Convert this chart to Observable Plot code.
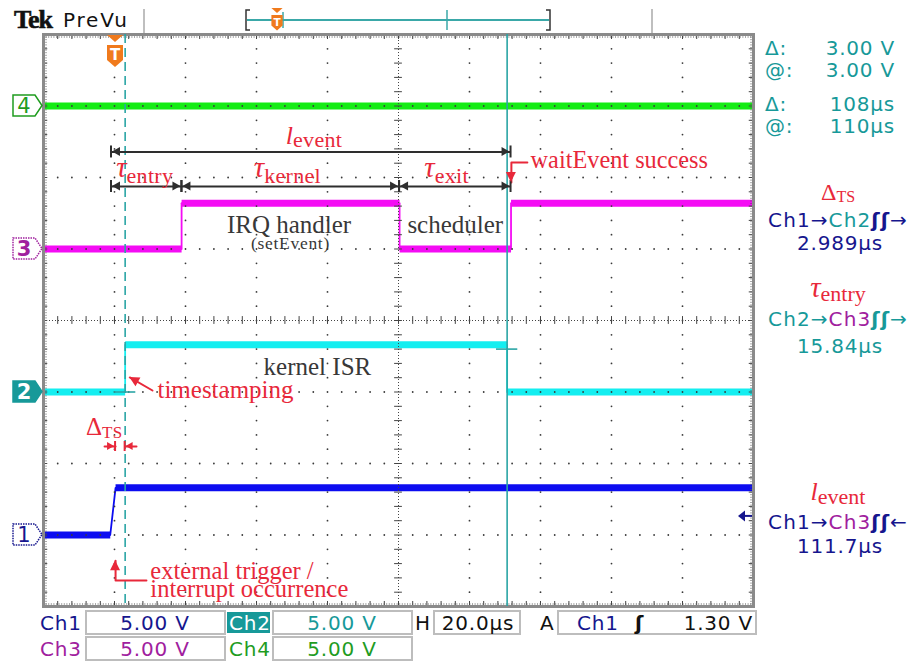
<!DOCTYPE html>
<html>
<head>
<meta charset="utf-8">
<script src="https://cdn.jsdelivr.net/npm/d3@7"></script>
<script src="https://cdn.jsdelivr.net/npm/@observablehq/plot@0.6"></script>
<style>
  html, body { margin: 0; padding: 0; background: #fff; }
  #scope { position: relative; width: 919px; height: 663px; overflow: hidden; }
  #scope svg { display: block; }
</style>
</head>
<body>
<div id="scope"></div>
<script>
// ===== Data read from the scope capture (time in µs from trigger, volts) =====
const ch1Time  = [-20, -1.2, 0.3, 180];
const ch1Volts = [0, 0, 3.3, 3.3];
const ch2Time  = [-20, 3.0, 3.0, 110.6, 110.6, 180];
const ch2Volts = [0, 0, 3.3, 3.3, 0, 0];
const ch3Time  = [-20, 18.9, 18.9, 80.3, 80.3, 111.7, 111.7, 180];
const ch3Volts = [0, 0, 3.2, 3.2, 0, 0, 3.2, 3.2];
const ch4Time  = [-20, 180];
const ch4Volts = [0, 0];

const channelNames   = ["Ch1", "Ch2", "Ch3", "Ch4"];
const channelOffsets = [-3, -1, 1, 3];        // ground markers, divisions
const voltsPerDiv    = 5;
const timeDomain     = [-20, 180];            // 20 µs/div, 10 div
const divDomain      = [-4, 4];               // 8 div
const triggerTime    = 0;
const triggerLevel   = 1.30;                  // V on Ch1
const cursorTimes    = [3.0, 110.6];
const cursorVolts    = [0.0, 3.0];            // measured on Ch2

// annotation anchors: event start, IRQ handler start, scheduler start, wakeup
const phaseTimes = [-0.85, 19.0, 80.3, 111.7];
const eventLevel = 2.357;
const tauLevel   = 1.874;

// readouts
const cursorReadout = [["Δ:", "3.00 V"], ["@:", "3.00 V"], ["Δ:", "108µs"], ["@:", "110µs"]];
const measurements = [
  {sym: "Δ", sub: "TS",    from: "Ch1", to: "Ch2", dir: "→", value: "2.989µs"},
  {sym: "τ", sub: "entry", from: "Ch2", to: "Ch3", dir: "→", value: "15.84µs"},
  {sym: "l", sub: "event", from: "Ch1", to: "Ch3", dir: "←", value: "111.7µs"}
];
const scaleLabels = ["5.00 V", "5.00 V", "5.00 V", "5.00 V"];
const horizLabel  = "20.0µs";
const trigLabel   = "1.30 V";

// ===== styles =====
const traceColor = {Ch1: "#0c0cf0", Ch2: "#14eef0", Ch3: "#f40cf4", Ch4: "#14ec14"};
const uiColor    = {Ch1: "#16168e", Ch2: "#179999", Ch3: "#a0209e", Ch4: "#1f9c1f"};
const RED = "#e8283a", DARK = "#2e2e2e", TEAL = "#2ba5a5";

// ===== trace segments =====
const traces = [
  {name: "Ch1", time: ch1Time, volts: ch1Volts, offset: channelOffsets[0]},
  {name: "Ch2", time: ch2Time, volts: ch2Volts, offset: channelOffsets[1]},
  {name: "Ch3", time: ch3Time, volts: ch3Volts, offset: channelOffsets[2]},
  {name: "Ch4", time: ch4Time, volts: ch4Volts, offset: channelOffsets[3]}
];
const levels = [], edges = [];
traces.forEach(c => {
  for (let i = 0; i < c.time.length - 1; i++) {
    const key = c.name + "-" + i;
    const a = {t: c.time[i], v: c.offset + c.volts[i] / voltsPerDiv, key, ch: c.name};
    const b = {t: c.time[i + 1], v: c.offset + c.volts[i + 1] / voltsPerDiv, key, ch: c.name};
    (c.volts[i] === c.volts[i + 1] ? levels : edges).push(a, b);
  }
});

// ===== graticule =====
const majorT = d3.range(timeDomain[0], timeDomain[1] + 0.01, 20);
const majorV = d3.range(divDomain[0], divDomain[1] + 0.01, 1);
const minorT = d3.range(timeDomain[0], timeDomain[1] + 0.01, 4);
const minorV = d3.range(divDomain[0], divDomain[1] + 0.001, 0.2).map(d => Math.round(d * 10) / 10);
const gridDots = [];
majorT.slice(1, -1).filter(t => t !== 80).forEach(t => minorV.slice(1, -1).forEach(v => gridDots.push({t, v})));
majorV.slice(1, -1).filter(v => v !== 0).forEach(v => minorT.slice(1, -1).forEach(t => {
  if (!majorT.includes(t)) gridDots.push({t, v});
}));

// ===== annotations =====
const dims = [
  {from: phaseTimes[0], to: phaseTimes[3], v: eventLevel},
  {from: phaseTimes[0], to: phaseTimes[1], v: tauLevel},
  {from: phaseTimes[1], to: phaseTimes[2], v: tauLevel},
  {from: phaseTimes[2], to: phaseTimes[3], v: tauLevel}
];
const mathLabels = [
  {t: 48.4, v: 2.462, sym: "l", sub: "event", subDy: 3},
  {t: 0.6,  v: 2.0,   sym: "τ", sub: "entry", subDy: 6},
  {t: 39.4, v: 2.0,   sym: "τ", sub: "kernel", subDy: 6},
  {t: 87.4, v: 2.0,   sym: "τ", sub: "exit", subDy: 6},
  {t: -7.9, v: -1.608, sym: "Δ", sub: "TS", subDy: 3}
];
const grayLabels = [
  {t: 42.0, v: -0.769, text: "kernel ISR", size: 25},
  {t: 82.5, v: 1.217, text: "scheduler", size: 25}
];
const redLabels = [
  {t: 12.1, v: -1.09, text: "timestamping", size: 25},
  {t: 117.2, v: 2.126, text: "waitEvent success", size: 24.3},
  {t: 10.1, v: -3.874, text: "external trigger /\ninterrupt occurrence", size: 24.5}
];
const redArrows = [
  {id: "ts",   pts: [[10.7, -0.979], [4.3, -0.797]], head: 10},
  {id: "wait", pts: [[116.3, 2.21], [111.8, 2.21], [111.8, 1.93]], head: 10},
  {id: "ext",  pts: [[9.0, -3.636], [0.3, -3.636], [0.3, -3.36]], head: 10},
  {id: "dl",   pts: [[-2.8, -1.762], [0.3, -1.762]], head: 6, bar: true},
  {id: "dr",   pts: [[6.2, -1.762], [3.0, -1.762]], head: 6, bar: true}
];
const redArrowPts = redArrows.flatMap(a => a.pts.map(([t, v]) => ({t, v, id: a.id})));

const cursorMarks = cursorTimes.map((t, i) => ({t, v: channelOffsets[1] + cursorVolts[i] / voltsPerDiv}));

const chart = Plot.plot({
  width: 919, height: 663,
  marginLeft: 43, marginRight: 166, marginTop: 34, marginBottom: 57,
  x: {domain: timeDomain, axis: null},
  y: {domain: divDomain, axis: null},
  style: {background: "transparent", overflow: "visible"},
  marks: [
    // traces
    ...traces.map(c => Plot.line(levels.filter(d => d.ch === c.name), {
      x: "t", y: "v", z: "key", stroke: traceColor[c.name], strokeWidth: 7, strokeLinecap: "butt"})),
    ...traces.map(c => Plot.line(edges.filter(d => d.ch === c.name), {
      x: "t", y: "v", z: "key", stroke: traceColor[c.name], strokeWidth: 1.8})),
    // graticule
    Plot.dot(gridDots, {x: "t", y: "v", r: 0.9, fill: "#3a3a3a", stroke: null}),
    Plot.ruleX([80], {stroke: "#444", strokeDasharray: "1,2"}),
    Plot.ruleY([0], {stroke: "#444", strokeDasharray: "1,2"}),
    Plot.ruleY(minorV, {y: d => d, x1: 78.9, x2: 81.1, stroke: "#444"}),
    Plot.ruleX(minorT, {x: d => d, y1: -0.055, y2: 0.055, stroke: "#444"}),
    Plot.ruleX(minorT, {x: d => d, y1: 4, y2: 3.93, stroke: "#444"}),
    Plot.ruleX(minorT, {x: d => d, y1: -4, y2: -3.93, stroke: "#444"}),
    Plot.ruleY(minorV, {y: d => d, x1: -20, x2: -18.8, stroke: "#444"}),
    Plot.ruleY(minorV, {y: d => d, x1: 180, x2: 178.8, stroke: "#444"}),
    Plot.ruleY([4], {dy: 2.5, stroke: "#555", strokeDasharray: "1,1.6"}),
    Plot.ruleY([-4], {dy: -2.5, stroke: "#555", strokeDasharray: "1,1.6"}),
    Plot.ruleX([-20], {dx: 2.5, stroke: "#555", strokeDasharray: "1,1.6"}),
    Plot.ruleX([180], {dx: -2.5, stroke: "#555", strokeDasharray: "1,1.6"}),
    Plot.frame({stroke: "#8a8a8a", strokeWidth: 3}),
    // cursors
    Plot.ruleX([cursorTimes[0]], {stroke: TEAL, strokeWidth: 1.6, strokeDasharray: "9,5"}),
    Plot.ruleX([cursorTimes[1]], {stroke: TEAL, strokeWidth: 1.6}),
    Plot.ruleY(cursorMarks, {y: "v", x1: d => d.t - 3, x2: d => d.t + 3, stroke: TEAL, strokeWidth: 1.6}),
    // dimension lines and red arrows
    Plot.link(dims, {x1: "from", x2: "to", y1: "v", y2: "v", stroke: DARK, strokeWidth: 2}),
    Plot.line(redArrowPts, {x: "t", y: "v", z: "id", stroke: RED, strokeWidth: 2}),
    // labels
    Plot.text(grayLabels, {x: "t", y: "v", text: "text", fontSize: d => d.size, textAnchor: "start", lineAnchor: "bottom",
      fontFamily: "Liberation Serif", fill: "#383838"}),
    Plot.text(redLabels, {x: "t", y: "v", text: "text", fontSize: d => d.size, textAnchor: "start", lineAnchor: "bottom",
      lineHeight: 0.74, fontFamily: "Liberation Serif", fill: RED})
  ]
});
document.getElementById("scope").appendChild(chart);

// ===== decorations using Plot's scales =====
const X = chart.scale("x"), Y = chart.scale("y");
const px = t => X.apply(t), py = v => Y.apply(v);
const svg = d3.select(chart);
const g = svg.append("g");

function tri(x, y, ux, uy, len, half, color) {
  const bx = x - ux * len, by = y - uy * len, nx = -uy, ny = ux;
  g.append("path").attr("d", `M${x},${y}L${bx + nx * half},${by + ny * half}L${bx - nx * half},${by - ny * half}Z`).attr("fill", color);
}
function bar(x, y, h, color) {
  g.append("line").attr("x1", x).attr("x2", x).attr("y1", y - h).attr("y2", y + h).attr("stroke", color).attr("stroke-width", 2);
}
dims.forEach(d => {
  const y = py(d.v), x1 = px(d.from), x2 = px(d.to);
  tri(x1 + 1, y, -1, 0, 8, 4.5, DARK); bar(x1, y, 6, DARK);
  tri(x2 - 1, y, 1, 0, 8, 4.5, DARK); bar(x2, y, 6, DARK);
});
redArrows.forEach(a => {
  const n = a.pts.length;
  const [t1, v1] = a.pts[n - 2], [t2, v2] = a.pts[n - 1];
  const x1 = px(t1), y1 = py(v1), x2 = px(t2), y2 = py(v2);
  const L = Math.hypot(x2 - x1, y2 - y1);
  const ux = (x2 - x1) / L, uy = (y2 - y1) / L;
  if (a.bar) { tri(x2 - ux, y2, ux, uy, a.head + 1, 4, RED); bar(x2, y2, 5, RED); }
  else tri(x2, y2, ux, uy, a.head, 5, RED);
});

// ===== text helper =====
function label(x, y, parts, anchor, base) {
  base = base || {};
  const t = g.append("text").attr("x", x).attr("y", y).attr("text-anchor", anchor || "start")
    .attr("font-family", base.family || "DejaVu Sans").attr("font-size", base.size || 20)
    .attr("fill", base.fill || "#000");
  if (base.ls) t.attr("letter-spacing", base.ls);
  if (typeof parts === "string") parts = [{text: parts}];
  parts.forEach(p => {
    const s = t.append("tspan").text(p.text);
    if (p.x != null) s.attr("x", p.x);
    if (p.fill) s.attr("fill", p.fill);
    if (p.size) s.attr("font-size", p.size);
    if (p.dy) s.attr("dy", p.dy);
    if (p.style) s.attr("font-style", p.style);
    if (p.weight) s.attr("font-weight", p.weight);
    if (p.family) s.attr("font-family", p.family);
    if (p.ls != null) s.attr("letter-spacing", p.ls);
  });
  return t;
}
function line(x1, y1, x2, y2, color, w) {
  g.append("line").attr("x1", x1).attr("y1", y1).attr("x2", x2).attr("y2", y2).attr("stroke", color).attr("stroke-width", w || 1.5);
}

// in-graticule math labels (symbol + subscript) at data positions
mathLabels.forEach(m => {
  const main = m.sym === "Δ" ? {text: m.sym, size: 25} : {text: m.sym, size: m.sym === "τ" ? 29 : 26, style: "italic"};
  const subSize = m.sym === "Δ" ? 17 : 22;
  label(px(m.t), py(m.v), [main, {text: m.sub, size: subSize, dy: m.subDy, ls: 0.3}], "start",
    {family: "Liberation Serif", fill: RED});
});
// IRQ handler with its (setEvent) note
label(px(31.8), py(1.217), [
  {text: "IRQ handler", size: 25},
  {text: "(setEvent)", size: 17.5, x: px(38.6), dy: 16, ls: 0.7}
], "start", {family: "Liberation Serif", fill: "#383838"});

// channel ground markers
const left = px(timeDomain[0]);
channelNames.forEach((name, i) => {
  const y = py(channelOffsets[i]);
  const filled = name === "Ch2";
  const path = `M${left - 30},${y - 10.5}H${left - 8}L${left - 1},${y}L${left - 8},${y + 10.5}H${left - 30}Z`;
  g.append("path").attr("d", path).attr("fill", filled ? uiColor.Ch2 : "#fff")
    .attr("stroke", uiColor[name]).attr("stroke-width", 1.5)
    .attr("stroke-dasharray", (name === "Ch1" || name === "Ch3") ? "1.5,1" : null);
  g.append("text").attr("x", left - 19).attr("y", y + 7.5).attr("text-anchor", "middle")
    .attr("font-family", "DejaVu Sans").attr("font-size", 21).attr("font-weight", filled || name === "Ch3" ? "bold" : "normal")
    .attr("fill", filled ? "#fff" : uiColor[name]).text(name.slice(2));
});

// trigger markers
function tIcon(x, yTop, s) {
  g.append("path").attr("d", `M${x - 8 * s},${yTop}H${x + 8 * s}L${x},${yTop + 7 * s}Z`).attr("fill", "#f07a1c");
  g.append("path").attr("d", `M${x - 8 * s},${yTop + 10 * s}H${x + 8 * s}V${yTop + 25 * s}L${x},${yTop + 32 * s}L${x - 8 * s},${yTop + 25 * s}Z`).attr("fill", "#f07a1c");
  g.append("text").attr("x", x).attr("y", yTop + 25 * s).attr("text-anchor", "middle").attr("font-family", "DejaVu Sans")
    .attr("font-weight", "bold").attr("font-size", 15 * s).attr("fill", "#fff").text("T");
}
tIcon(px(triggerTime) + 1, 35, 1);

// trigger level arrow (right edge)
{
  const y = py(channelOffsets[0] + triggerLevel / voltsPerDiv), xr = px(timeDomain[1]);
  g.append("path").attr("d", `M${xr - 15},${y}L${xr - 8},${y - 5.5}L${xr - 8},${y + 5.5}Z`).attr("fill", uiColor.Ch1);
  g.append("line").attr("x1", xr - 9).attr("x2", xr - 1).attr("y1", y).attr("y2", y).attr("stroke", uiColor.Ch1).attr("stroke-width", 2);
}

// header
label(14, 28, "Tek", "start", {family: "Liberation Serif", size: 26, fill: "#111", ls: -1})
  .attr("font-weight", "bold").attr("stroke", "#111").attr("stroke-width", 0.6);
label(63, 27, "PreVu", "start", {size: 20, fill: "#111", ls: 1.8});
line(144, 9, 144, 33, "#aaa", 1.5);
line(652, 9, 652, 33, "#aaa", 1.5);
line(247, 20, 549, 20, "#3aa8a8", 2);
g.append("path").attr("d", "M250,10H246V30H250").attr("fill", "none").attr("stroke", "#333").attr("stroke-width", 1.5);
g.append("path").attr("d", "M546,10H550V30H546").attr("fill", "none").attr("stroke", "#333").attr("stroke-width", 1.5);
line(447, 10, 447, 30, "#3aa8a8", 1.5);
line(283, 12, 283, 28, "#3aa8a8", 1.5);
tIcon(277, 8, 0.7);

// cursor readouts
cursorReadout.forEach(([k, val], i) => {
  const y = [55, 77, 111, 133][i];
  label(765, y, k, "start", {fill: uiColor.Ch2, ls: 0.8});
  label(895, y, val, "end", {fill: uiColor.Ch2, ls: 0.8});
});

// measurement readouts: symbol line, channel line and value line in one text
const mY = [[200, 227, 250], [297, 326, 353], [500, 529, 553]];
measurements.forEach((m, i) => {
  const [ys, yc, yv] = mY[i];
  const isD = m.sym === "Δ";
  const subDy = isD ? 2 : 4;
  const main = isD ? {text: m.sym, size: 24} : {text: m.sym, size: m.sym === "τ" ? 29 : 26, style: "italic"};
  const fc = uiColor[m.from];
  const sans = "DejaVu Sans";
  label(838, ys, [
    main,
    {text: m.sub, size: isD ? 16 : 22, dy: subDy},
    {text: m.from, x: 838, dy: yc - ys - subDy, fill: fc, family: sans, size: 20, ls: 1.1},
    {text: "→", fill: fc, family: sans, size: 20, ls: 1.1},
    {text: m.to, fill: uiColor[m.to], family: sans, size: 20, ls: 1.1},
    {text: "ʃʃ", fill: fc, weight: "bold", family: sans, size: 20, ls: 1.1},
    {text: m.dir, fill: fc, family: sans, size: 20, ls: 1.1},
    {text: m.value, x: 840, dy: yv - yc, fill: fc, family: sans, size: 20, ls: 0.8}
  ], "middle", {family: "Liberation Serif", fill: RED});
});

// footer
function box(x, y, w, h) {
  g.append("rect").attr("x", x).attr("y", y).attr("width", w).attr("height", h)
    .attr("fill", "#fff").attr("stroke", "#bdbdbd").attr("stroke-width", 2);
}
box(86, 611, 139, 23); box(273, 611, 139, 23); box(434, 611, 86, 23); box(558, 611, 198, 23);
box(86, 637, 139, 23); box(273, 637, 139, 23);
g.append("rect").attr("x", 227).attr("y", 612).attr("width", 43).attr("height", 21).attr("fill", uiColor.Ch2);
const fs = {ls: 0.8};
label(40, 630, "Ch1", "start", {...fs, fill: uiColor.Ch1});
label(155, 630, scaleLabels[0], "middle", {...fs, fill: uiColor.Ch1});
label(229, 630, "Ch2", "start", {...fs, fill: "#fff"});
label(342, 630, scaleLabels[1], "middle", {...fs, fill: uiColor.Ch2});
label(415, 630, "H", "start", {...fs, fill: "#111"});
label(478, 630, horizLabel, "middle", {...fs, fill: "#111"});
label(540, 630, "A", "start", {...fs, fill: "#111"});
label(577, 630, "Ch1", "start", {...fs, fill: uiColor.Ch1});
label(635, 630, "ʃ", "start", {...fs, fill: "#111"}).attr("font-weight", "bold");
label(753, 630, trigLabel, "end", {...fs, fill: "#111"});
label(40, 656, "Ch3", "start", {...fs, fill: uiColor.Ch3});
label(155, 656, scaleLabels[2], "middle", {...fs, fill: uiColor.Ch3});
label(229, 656, "Ch4", "start", {...fs, fill: uiColor.Ch4});
label(342, 656, scaleLabels[3], "middle", {...fs, fill: uiColor.Ch4});
</script>
</body>
</html>
